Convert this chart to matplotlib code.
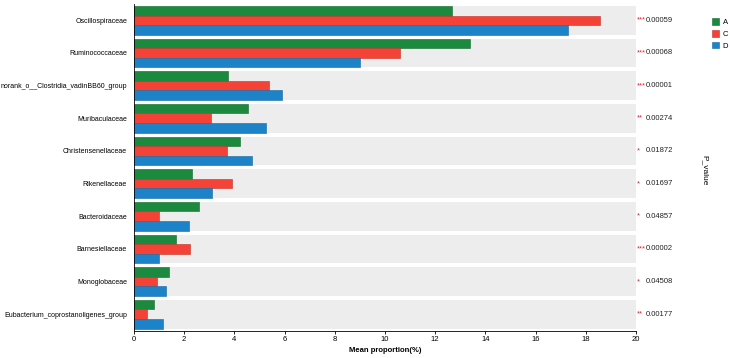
import matplotlib
matplotlib.use("Agg")
import matplotlib.pyplot as plt
import numpy as np

plt.rcParams['font.family'] = ['Liberation Sans', 'DejaVu Sans']

categories = ["Oscillospiraceae", "Ruminococcaceae", "norank_o__Clostridia_vadinBB60_group",
              "Muribaculaceae", "Christensenellaceae", "Rikenellaceae", "Bacteroidaceae",
              "Barnesiellaceae", "Monoglobaceae", "Eubacterium_coprostanoligenes_group"]
group_names = ["A", "C", "D"]
vals_A = [12.67, 13.39, 3.75, 4.54, 4.22, 2.31, 2.59, 1.66, 1.39, 0.81]
vals_C = [18.57, 10.60, 5.38, 3.07, 3.70, 3.89, 1.00, 2.22, 0.92, 0.52]
vals_D = [17.29, 9.00, 5.90, 5.26, 4.70, 3.11, 2.20, 0.98, 1.29, 1.14]
stars = ["***", "***", "***", "**", "*", "*", "*", "***", "*", "**"]
pvalues = ["0.00059", "0.00068", "0.00001", "0.00274", "0.01872", "0.01697",
           "0.04857", "0.00002", "0.04508", "0.00177"]
colors = ["#1b8a3e", "#f44236", "#1d83c9"]
edge_colors = ["#136b2f", "#c2322a", "#16679f"]

fig = plt.figure(figsize=(7.3, 3.58), dpi=100)
ax = fig.add_axes([134/730, 1-330.5/358, (636-134)/730, (330.5-4)/358])

n = len(categories)
y = np.arange(n)
bh = 0.293
xmax = 20
for i in range(n):
    ax.barh(y[i], xmax, height=3*bh, left=0, color="#ededed", zorder=0, linewidth=0)
for k, (vals, c, ec) in enumerate(zip([vals_A, vals_C, vals_D], colors, edge_colors)):
    ax.barh(y + (k-1)*bh, vals, height=bh, color=c, edgecolor=ec, linewidth=0.4,
            label=group_names[k], zorder=2)

ax.set_xlim(0, xmax)
ax.set_ylim(n-0.5, -0.5)
ax.set_yticks(y)
ax.set_yticklabels(categories, fontsize=5.0)
ax.tick_params(axis='y', length=0, pad=5)
ax.set_xticks(np.arange(0, 21, 2))
ax.tick_params(axis='x', labelsize=5.5, length=2.5, width=0.6, pad=1.5)
for s in ["top", "right"]:
    ax.spines[s].set_visible(False)
for s in ["left", "bottom"]:
    ax.spines[s].set_linewidth(0.6)
ax.set_xlabel("Mean proportion(%)", fontsize=5.5, fontweight='bold', labelpad=3)

for i in range(n):
    ax.text(20.03, y[i], stars[i], color="#e0262a", fontsize=5.5, va='center', ha='left')
    ax.text(20.38, y[i], pvalues[i], color="#222222", fontsize=5.5, va='center', ha='left')

fig.text(705/730, 1-170/358, "P_value", rotation=-90, fontsize=6, ha='center', va='center')

leg = fig.legend(loc='upper left', bbox_to_anchor=(708/730, 1-14/358), frameon=False,
                 fontsize=5.5, handlelength=1.0, handleheight=1.0, handletextpad=0.4,
                 labelspacing=0.5, borderpad=0)

fig.savefig("out.png", dpi=100)
